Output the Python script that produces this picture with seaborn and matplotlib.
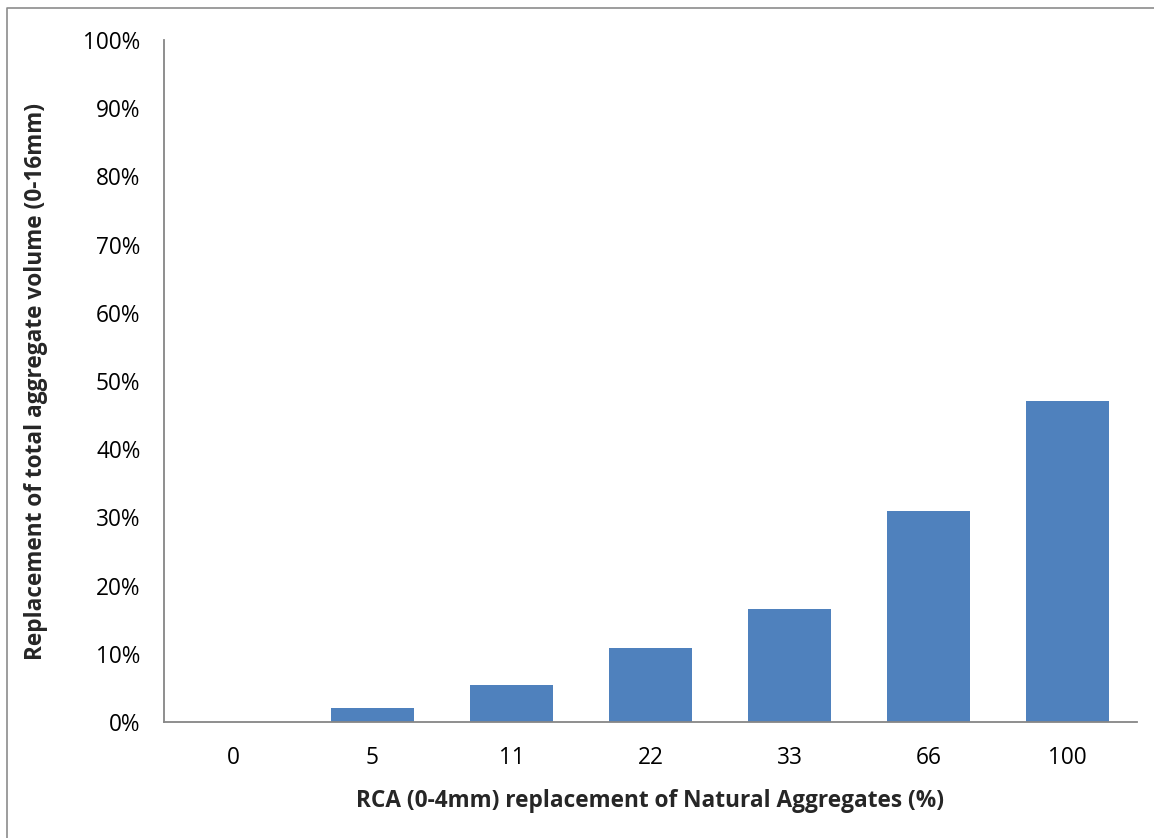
import matplotlib
matplotlib.use("Agg")
import matplotlib.pyplot as plt
from matplotlib.lines import Line2D
from matplotlib.ticker import FuncFormatter
import seaborn as sns
import pandas as pd

# RCA (0-4mm) share of natural aggregates and resulting share of total aggregate volume
rca_levels = ["0", "5", "11", "22", "33", "66", "100"]
total_replacement = [0.0, 2.0, 5.4, 10.9, 16.5, 31.0, 47.0]

df = pd.DataFrame({"rca": rca_levels, "total": total_replacement})

sns.set_theme(style="white")
plt.rcParams["font.family"] = ["Open Sans", "DejaVu Sans"]

W, H = 1154, 838
fig = plt.figure(figsize=(W / 100, H / 100), dpi=100)
ax = fig.add_axes([164 / W, 1 - 722 / H, (1137 - 164) / W, (722 - 40) / H])

sns.barplot(data=df, x="rca", y="total", order=rca_levels, color="#4F81BD",
            width=0.6, saturation=1, edgecolor="none", ax=ax)

ax.set_ylim(0, 100)
ax.set_xlim(-0.5, len(rca_levels) - 0.5)
ax.set_yticks(range(0, 101, 10))
ax.yaxis.set_major_formatter(FuncFormatter(lambda v, _: f"{v:.0f}%"))

ax.tick_params(axis="both", length=0, labelsize=16.3, colors="black", pad=17)
ax.set_xlabel("RCA (0-4mm) replacement of Natural Aggregates (%)",
              fontsize=16.3, fontweight="bold", labelpad=14)
ax.set_ylabel("Replacement of total aggregate volume (0-16mm)",
              fontsize=16.3, fontweight="bold", labelpad=25)

for side in ("top", "right"):
    ax.spines[side].set_visible(False)
for side in ("left", "bottom"):
    ax.spines[side].set_color("#868686")
    ax.spines[side].set_linewidth(1.3)
ax.grid(False)

# chart-area frame
frame_x = 7 / W
frame_y = 1 - 8 / H
fig.add_artist(Line2D([frame_x, frame_x, 1.0], [0.0, frame_y, frame_y],
                      transform=fig.transFigure, color="#8c8c8c", lw=1.2))

fig.savefig("out.png", dpi=100, facecolor="white")
